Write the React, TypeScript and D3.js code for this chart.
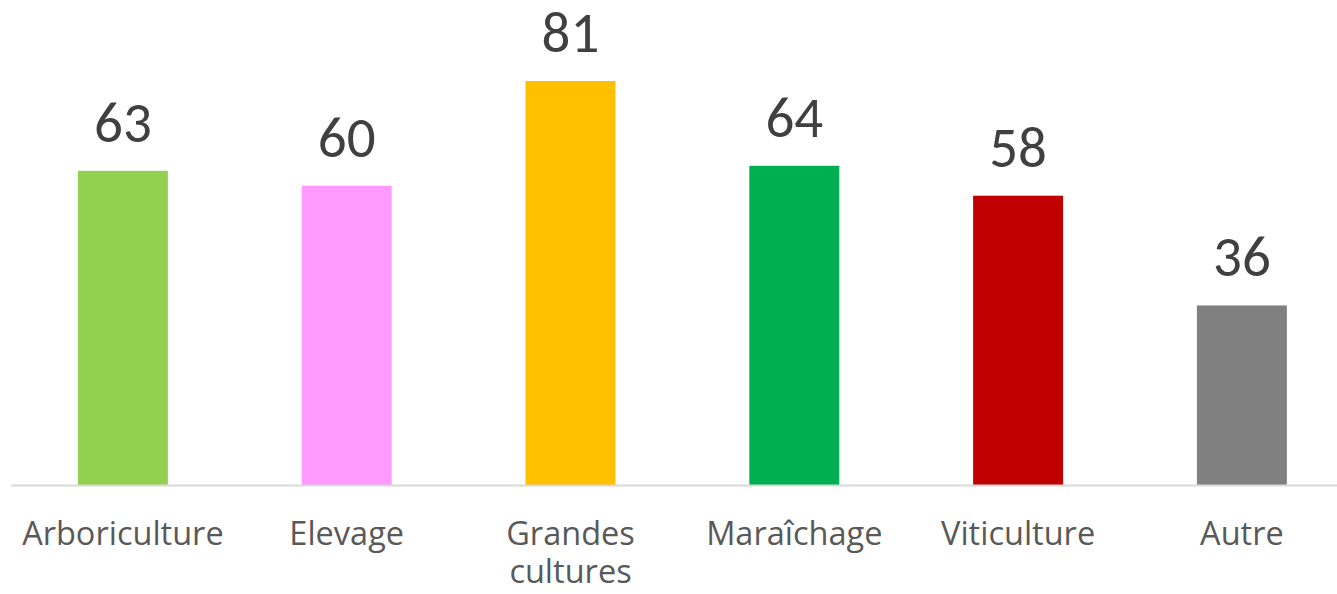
import React from 'react'
import { scaleBand, scaleLinear } from 'd3'

// categories and values
const categories = [['Arboriculture'], ['Elevage'], ['Grandes', 'cultures'], ['Maraîchage'], ['Viticulture'], ['Autre']]
const values = [63, 60, 81, 64, 58, 36]
const colors = ['#92D050', '#FF99FF', '#FFC000', '#00B050', '#C00000', '#808080']

const width = 1337
const height = 594
const baseline = 485

const App = () => {
    const x = scaleBand<number>()
        .domain(values.map((_, i) => i))
        .range([11, 11 + 223.8 * 6])
        .paddingInner(0.598)
        .paddingOuter(0.299)
    const y = scaleLinear().domain([0, 81]).range([baseline, 81])

    return (
        <svg width={width} height={height} style={{ position: 'absolute', left: 0, top: 0, background: '#fff' }}>
            {values.map((v, i) => {
                const cx = (x(i) ?? 0) + x.bandwidth() / 2
                return (
                    <g key={i}>
                        <rect x={x(i)} y={y(v)} width={x.bandwidth()} height={baseline - y(v)} fill={colors[i]} />
                        <text x={cx} y={y(v) - 29} textAnchor="middle"
                            fontFamily="Carlito, Calibri, Lato, sans-serif" fontSize={57} fill="#404040">{v}</text>
                        {/* multi-line labels as tspans in one text */}
                        <text x={cx} y={545} textAnchor="middle"
                            fontFamily="'Open Sans', sans-serif" fontSize={32.5} fill="#595959">
                            {categories[i].map((line, j) => (
                                <tspan key={j} x={cx} dy={j === 0 ? 0 : 38}>{line}</tspan>
                            ))}
                        </text>
                    </g>
                )
            })}
            <line x1={11} x2={width} y1={baseline + 0.5} y2={baseline + 0.5} stroke="#d9d9d9" strokeWidth={2} />
        </svg>
    )
}

export default App
